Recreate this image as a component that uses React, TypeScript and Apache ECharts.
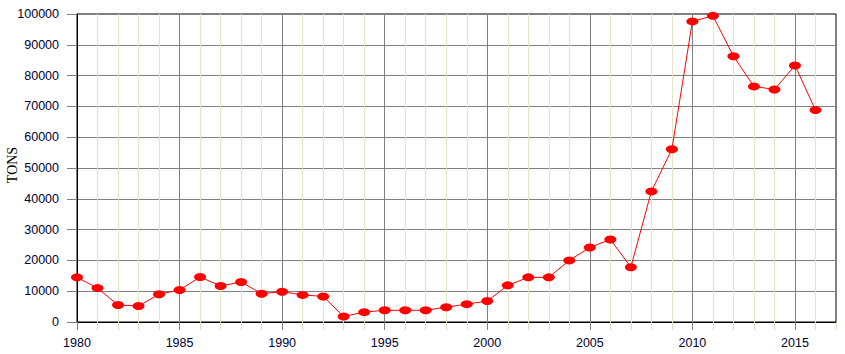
import React, { useEffect, useRef } from "react";
import * as echarts from "echarts";

const years = [
  1980, 1981, 1982, 1983, 1984, 1985, 1986, 1987, 1988, 1989,
  1990, 1991, 1992, 1993, 1994, 1995, 1996, 1997, 1998, 1999,
  2000, 2001, 2002, 2003, 2004, 2005, 2006, 2007, 2008, 2009,
  2010, 2011, 2012, 2013, 2014, 2015, 2016,
];
const tons = [
  14500, 11000, 5500, 5200, 9000, 10400, 14600, 11700, 13000, 9200,
  9850, 8800, 8300, 1800, 3200, 3800, 3800, 3800, 4800, 5800,
  6800, 11900, 14500, 14500, 20000, 24200, 26800, 17800, 42400, 56100,
  97600, 99400, 86300, 76500, 75500, 83300, 68800,
];
const yAxisName = "TONS";

export default function App() {
  const ref = useRef<HTMLDivElement>(null);
  useEffect(() => {
    if (!ref.current) return;
    const chart = echarts.init(ref.current, undefined, { renderer: "svg" });
    const labelFont = { fontFamily: "Arial, 'Liberation Sans', sans-serif", color: "#000033" };
    chart.setOption({
      animation: false,
      backgroundColor: "#ffffff",
      grid: {
        left: 77,
        right: 9,
        top: 14,
        bottom: 32,
        containLabel: false,
        outerBoundsMode: "none",
        show: true,
        borderColor: "#000000",
        borderWidth: 1,
        backgroundColor: "transparent",
      },
      graphic: [
        {
          type: "text",
          x: 12,
          y: 165,
          rotation: Math.PI / 2,
          style: {
            text: yAxisName,
            fontFamily: "'Liberation Serif', 'Times New Roman', serif",
            fontSize: 14,
            fill: "#000000",
            align: "center",
            verticalAlign: "middle",
          },
        },
      ],
      xAxis: [
        {
          type: "value",
          position: "bottom",
          min: 1980,
          max: 2017,
          interval: 1,
          axisLine: { show: false },
          axisTick: { show: true, length: 8, lineStyle: { color: "#e0e0c0" } },
          axisLabel: { show: false },
          splitLine: { show: true, showMinLine: false, showMaxLine: false, lineStyle: { color: "#e3e3c6", width: 1 } },
        },
        {
          type: "value",
          position: "bottom",
          min: 1980,
          max: 2017,
          interval: 5,
          axisLine: { show: true, lineStyle: { color: "#000000", width: 1 } },
          axisTick: { show: true, length: 8, lineStyle: { color: "#808080" } },
          axisLabel: {
            ...labelFont,
            fontSize: 12.5,
            margin: 14,
            showMaxLabel: false,
            formatter: (v: number) => (v % 5 === 0 ? String(v) : ""),
          },
          splitLine: { show: true, showMinLine: false, showMaxLine: false, lineStyle: { color: "#808080", width: 1 } },
        },
      ],
      yAxis: {
        type: "value",
        min: 0,
        max: 100000,
        interval: 10000,
        axisLine: { show: true, lineStyle: { color: "#000000", width: 1 } },
        axisTick: { show: true, length: 10, lineStyle: { color: "#808080" } },
        axisLabel: { ...labelFont, fontSize: 12.5, margin: 18, formatter: (v: number) => String(v) },
        splitLine: { show: true, showMinLine: false, showMaxLine: false, lineStyle: { color: "#808080", width: 1 } },
      },
      series: [
        {
          type: "line",
          xAxisIndex: 1,
          data: years.map((y, i) => [y, tons[i]]),
          symbol: "circle",
          symbolSize: [12, 8],
          itemStyle: { color: "#ff0000" },
          lineStyle: { color: "#ff0000", width: 1 },
          z: 5,
        },
      ],
    });
    return () => chart.dispose();
  }, []);
  return <div ref={ref} style={{ width: 845, height: 354, position: "absolute", left: 0, top: 0 }} />;
}
